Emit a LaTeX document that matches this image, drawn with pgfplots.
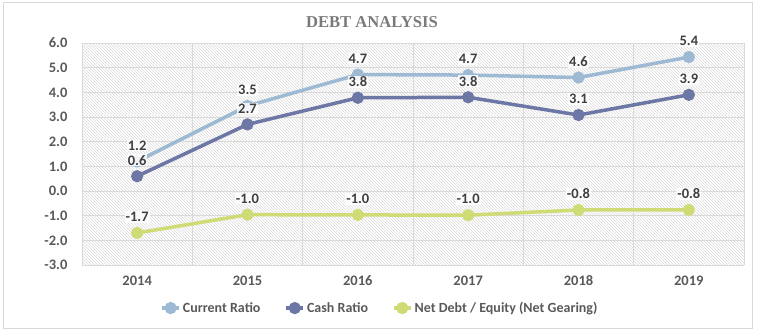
\documentclass[border=0pt]{standalone}
\usepackage{fontspec}
\setmainfont{Carlito}
\newfontfamily\titlefont{Liberation Serif}
\usepackage{pgfplots}
\pgfplotsset{compat=1.18}
\usetikzlibrary{patterns}
\definecolor{cur}{HTML}{9DB9D3}
\definecolor{cash}{HTML}{6C77A6}
\definecolor{gear}{HTML}{CFDB74}
\definecolor{txt}{HTML}{595959}
\definecolor{lbl}{HTML}{404040}
\definecolor{gridc}{HTML}{D9D9D9}
\begin{document}
\begin{tikzpicture}
\path[use as bounding box] (0pt,0pt) rectangle (758pt,335pt);
\draw[gridc, line width=1pt] (3pt,332pt) rectangle (752pt,7pt);
\node[font=\titlefont\bfseries\fontsize{16.6}{18}\selectfont, text=black!52] at (372pt,313pt) {DEBT ANALYSIS};
\begin{axis}[at={(82pt,70pt)}, anchor=south west, scale only axis,
  width=662pt, height=222pt,
  xmin=-0.5, xmax=5.5, ymin=-3, ymax=6,
  xtick={0,1,2,3,4,5}, xticklabels={2014,2015,2016,2017,2018,2019},
  minor xtick={-0.5,0.5,1.5,2.5,3.5,4.5,5.5},
  ytick={-3,-2,-1,0,1,2,3,4,5,6},
  major tick length=0pt, minor tick length=0pt,
  axis line style={draw=none},
  ymajorgrids=true, xminorgrids=true,
  major grid style={gridc, line width=0.8pt},
  minor grid style={gridc, line width=0.8pt},
  axis background/.style={pattern=north west lines, pattern color=black!15},
  yticklabel style={font=\bfseries\fontsize{14.5}{17}\selectfont, text=txt, xshift=-11pt,
    /pgf/number format/.cd, fixed, fixed zerofill, precision=1, assume math mode=true},
  xticklabel style={font=\bfseries\fontsize{14.5}{17}\selectfont, text=txt, yshift=-7pt},
  clip=false,
  legend style={at={(0.45,-0.194)}, anchor=center, draw=none, fill=none,
    font=\bfseries\fontsize{14}{16}\selectfont, text=txt,
    /tikz/every even column/.append style={column sep=22pt}},
  legend columns=3,
  legend cell align=left,
  every axis plot/.append style={line width=3.5pt, mark=*, mark size=4.3pt},
  nodes near coords={\pgfmathprintnumber[fixed,fixed zerofill,precision=1,assume math mode=true]{\pgfplotspointmeta}},
  every node near coord/.append style={font=\bfseries\fontsize{14.5}{17}\selectfont, text=lbl,
    anchor=center, yshift=16pt, fill=white, fill opacity=0.85, text opacity=1, inner sep=1pt},
]
\addplot[color=cur] coordinates {(0,1.2) (1,3.45) (2,4.72) (3,4.7) (4,4.6) (5,5.43)};
\addlegendentry{Current Ratio}
\addplot[color=cash] coordinates {(0,0.6) (1,2.7) (2,3.78) (3,3.8) (4,3.08) (5,3.9)};
\addlegendentry{Cash Ratio}
\addplot[color=gear] coordinates {(0,-1.7) (1,-0.96) (2,-0.97) (3,-0.98) (4,-0.77) (5,-0.77)};
\addlegendentry{Net Debt / Equity (Net Gearing)}
\end{axis}
\end{tikzpicture}
\end{document}
